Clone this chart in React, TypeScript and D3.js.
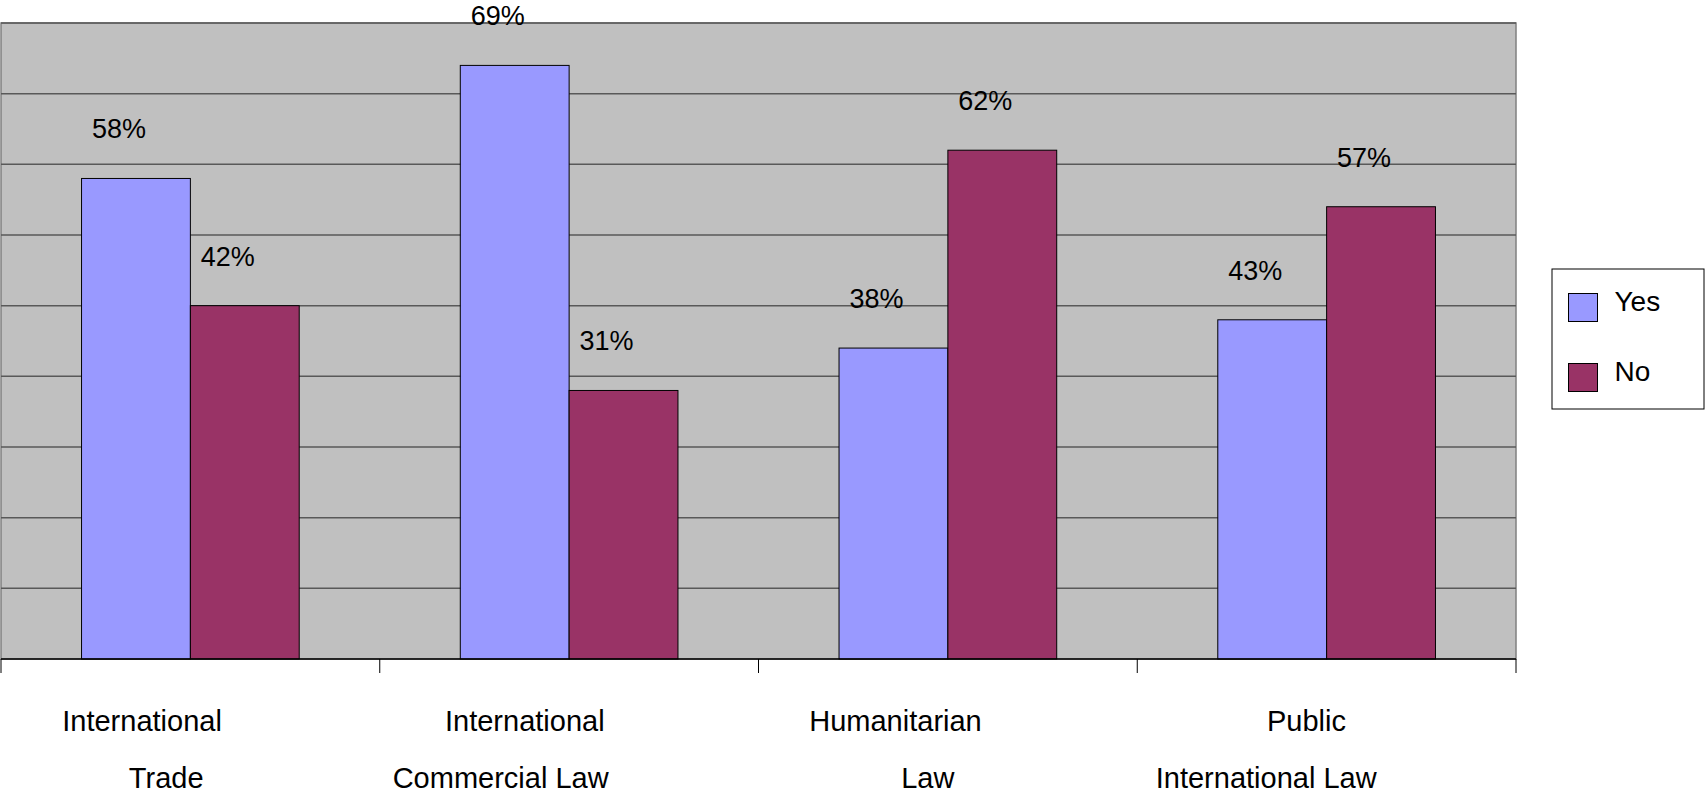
import React, { useEffect, useRef } from 'react';
import * as d3 from 'd3';

// category labels, already wrapped the way the source chart wrapped them (padding kept)
const categories = ['International Trade', 'International Commercial Law', 'Humanitarian Law', 'Public International Law'];
const categoryLines = [
  ['International            ', 'Trade      '],
  ['International           ', 'Commercial Law                 '],
  ['Humanitarian             ', 'Law     '],
  ['Public     ', 'International Law               '],
];

const seriesNames = ['Yes', 'No'];
const yesValues = [34, 42, 22, 24];
const noValues = [25, 19, 36, 32];
const yTicks = [0, 5, 10, 15, 20, 25, 30, 35, 40, 45];

const colors = ['#9999ff', '#993366'];

const App: React.FC = () => {
  const svgRef = useRef<SVGSVGElement | null>(null);

  useEffect(() => {
    if (!svgRef.current) return;
    const width = 1705;
    const height = 795;
    const plot = { left: 1, right: 1516, top: 23, bottom: 659 };
    const font = '"Liberation Sans", Arial, sans-serif';

    const svg = d3.select(svgRef.current);
    svg.selectAll('*').remove();
    svg.attr('width', width).attr('height', height);

    const x = d3.scaleBand<string>()
      .domain(categories)
      .range([plot.left, plot.right])
      .padding(0);

    const y = d3.scaleLinear()
      .domain([0, d3.max(yTicks) as number])
      .range([plot.bottom, plot.top]);

    // two bars per category, gap width 150%
    const barW = x.bandwidth() / 3.48;
    const barOffset = (x.bandwidth() - 2 * barW) / 2;

    // plot background
    svg.append('rect')
      .attr('x', plot.left)
      .attr('y', plot.top)
      .attr('width', plot.right - plot.left)
      .attr('height', plot.bottom - plot.top)
      .attr('fill', '#c0c0c0')
      .attr('stroke', '#808080')
      .attr('stroke-width', 1.5);

    // gridlines
    svg.append('g')
      .selectAll('line')
      .data(yTicks.slice(1))
      .join('line')
      .attr('x1', plot.left)
      .attr('x2', plot.right)
      .attr('y1', d => y(d))
      .attr('y2', d => y(d))
      .attr('stroke', '#595959')
      .attr('stroke-width', 1.5);

    // bars
    const rows = categories.map((c, i) => ({ cat: c, vals: [yesValues[i], noValues[i]] }));
    const groups = svg.append('g')
      .selectAll('g')
      .data(rows)
      .join('g');

    groups.selectAll('rect')
      .data(d => d.vals.map((v, k) => ({ cat: d.cat, v, k })))
      .join('rect')
      .attr('x', d => (x(d.cat) as number) + barOffset + d.k * barW)
      .attr('y', d => y(d.v))
      .attr('width', barW)
      .attr('height', d => y(0) - y(d.v))
      .attr('fill', d => colors[d.k])
      .attr('stroke', '#000')
      .attr('stroke-width', 1);

    // percentage labels
    const pct = d3.format('.0%');
    groups.selectAll('text')
      .data(d => d.vals.map((v, k) => ({ cat: d.cat, v, k, total: d3.sum(d.vals) })))
      .join('text')
      .attr('x', d => (x(d.cat) as number) + barOffset + d.k * barW + barW / 2 - 17)
      .attr('y', d => y(d.v) - 40)
      .attr('text-anchor', 'middle')
      .attr('font-family', font)
      .attr('font-size', 27)
      .attr('fill', '#000')
      .text(d => pct(d.v / d.total));

    // x axis line + ticks
    svg.append('line')
      .attr('x1', plot.left)
      .attr('x2', plot.right)
      .attr('y1', plot.bottom)
      .attr('y2', plot.bottom)
      .attr('stroke', '#000')
      .attr('stroke-width', 1.5);

    const tickXs = categories.map(c => x(c) as number).concat([plot.right]);
    svg.append('g')
      .selectAll('line')
      .data(tickXs)
      .join('line')
      .attr('x1', d => d)
      .attr('x2', d => d)
      .attr('y1', plot.bottom)
      .attr('y2', plot.bottom + 14)
      .attr('stroke', '#000')
      .attr('stroke-width', 1);

    // category labels
    const labels = svg.append('g')
      .selectAll('text')
      .data(categories)
      .join('text')
      .attr('text-anchor', 'middle')
      .attr('font-family', font)
      .attr('font-size', 29)
      .attr('fill', '#000')
      .style('white-space', 'pre')
      .attr('xml:space', 'preserve');

    labels.selectAll('tspan')
      .data((d, i) => categoryLines[i].map(line => ({ cat: d, line })))
      .join('tspan')
      .attr('x', d => (x(d.cat) as number) + x.bandwidth() / 2)
      .attr('y', (d, j) => 731 + j * 57)
      .text(d => d.line);

    // legend
    const legend = svg.append('g');
    legend.append('rect')
      .attr('x', 1552)
      .attr('y', 269)
      .attr('width', 152)
      .attr('height', 140)
      .attr('fill', '#fff')
      .attr('stroke', '#000')
      .attr('stroke-width', 1);

    const items = legend.selectAll('g')
      .data(seriesNames)
      .join('g')
      .attr('transform', (d, i) => `translate(1568.5, ${293.5 + i * 70})`);

    items.append('rect')
      .attr('width', 29)
      .attr('height', 28)
      .attr('fill', (d, i) => colors[i])
      .attr('stroke', '#000')
      .attr('stroke-width', 1);

    items.append('text')
      .attr('x', 46)
      .attr('y', 17)
      .attr('font-family', font)
      .attr('font-size', 28)
      .attr('fill', '#000')
      .text(d => d);
  }, []);

  return (
    <svg
      ref={svgRef}
      style={{ position: 'absolute', left: 0, top: 0, display: 'block', background: '#fff' }}
    ></svg>
  );
};

export default App;
